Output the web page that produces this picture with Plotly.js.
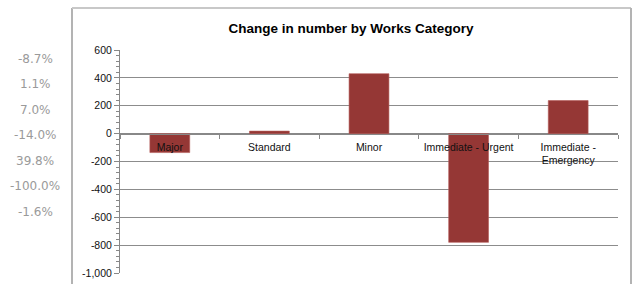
<!DOCTYPE html>
<html>
<head>
<meta charset="utf-8">
<script src="https://cdn.plot.ly/plotly-3.0.1.min.js"></script>
<style>
html,body{margin:0;padding:0;background:#fff;}
#chart{width:635px;height:284px;}
</style>
</head>
<body>
<div id="chart"></div>
<script>
// Data
const categories = ["Major", "Standard", "Minor", "Immediate - Urgent", "Immediate -<br>Emergency"];
const changeValues = [-136, 18, 430, -780, 237];
const pctLabels = ["-8.7%", "1.1%", "7.0%", "-14.0%", "39.8%", "-100.0%", "-1.6%"];
const yTickVals = [600, 400, 200, 0, -200, -400, -600, -800, -1000];
const yTickText = ["600", "400", "200", "0", "-200", "-400", "-600", "-800", "-1,000"];

// Geometry helpers (pixels -> paper)
const W = 635, H = 284;
const L = 120, R = 17, T = 50, B = 11;
const pw = W - L - R, ph = H - T - B;
const px = x => (x - L) / pw;
const py = y => (H - B - y) / ph;

const annotations = pctLabels.map((t, i) => ({
  text: t, xref: "paper", yref: "paper",
  x: px(35), y: py(58.7 + 25.55 * i),
  xanchor: "center", yanchor: "middle", showarrow: false,
  font: {family: "DejaVu Sans", size: 12, color: "#9a9a9a"}
}));

const frameColor = "#b3b3b3";
const shapes = [
  {type: "line", xref: "paper", yref: "paper", x0: px(72), x1: px(72), y0: py(8), y1: py(290), line: {color: frameColor, width: 2}},
  {type: "line", xref: "paper", yref: "paper", x0: px(72), x1: px(631), y0: py(8), y1: py(8), line: {color: "#c8c8c8", width: 2}},
  {type: "line", xref: "paper", yref: "paper", x0: px(631), x1: px(631), y0: py(8), y1: py(290), line: {color: frameColor, width: 2}}
];

const trace = {
  type: "bar",
  x: categories,
  y: changeValues,
  marker: {color: "#953735", line: {color: "#b35a58", width: 0.6}},
  width: 0.4,
  hoverinfo: "skip"
};

const layout = {
  width: W, height: H,
  margin: {l: L, r: R, t: T, b: B, pad: 0},
  paper_bgcolor: "#ffffff", plot_bgcolor: "#ffffff",
  showlegend: false,
  title: {
    text: "<b>Change in number by Works Category</b>",
    font: {family: "Liberation Sans", size: 13.5, color: "#000"},
    x: px(351), xanchor: "center", xref: "paper",
    y: 1 - 33 / H, yanchor: "bottom", yref: "container"
  },
  xaxis: {
    type: "category",
    anchor: "free", position: py(134),
    showline: true, linecolor: "#888", linewidth: 1,
    ticks: "outside", tickson: "boundaries", ticklen: 4, tickcolor: "#888",
    ticklabelstandoff: 3,
    showgrid: false, zeroline: false,
    tickfont: {family: "Liberation Sans", size: 10.5, color: "#111"},
    tickangle: 0,
    fixedrange: true
  },
  yaxis: {
    range: [-1000, 600],
    tickvals: yTickVals, ticktext: yTickText,
    showline: true, linecolor: "#888", linewidth: 1,
    ticks: "outside", ticklen: 5, tickcolor: "#888",
    showgrid: true, gridcolor: "#8c8c8c", gridwidth: 1,
    zeroline: true, zerolinecolor: "#888", zerolinewidth: 1,
    tickfont: {family: "Liberation Sans", size: 10.5, color: "#111"},
    minor: {dtick: 40, ticks: "outside", ticklen: 3, tickcolor: "#888", showgrid: false},
    fixedrange: true
  },
  annotations: annotations,
  shapes: shapes
};

Plotly.newPlot("chart", [trace], layout, {displayModeBar: false, staticPlot: true});
</script>
</body>
</html>
